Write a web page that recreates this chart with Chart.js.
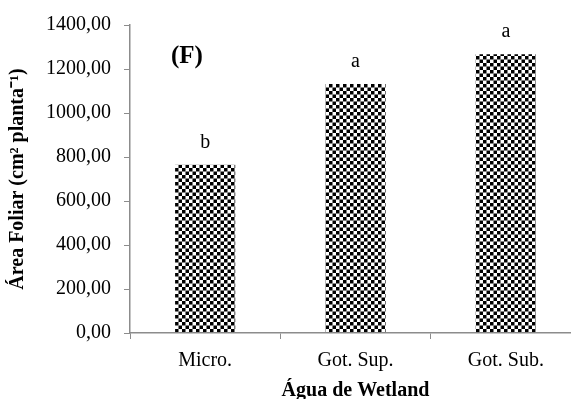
<!DOCTYPE html>
<html>
<head>
<meta charset="utf-8">
<script src="https://cdn.jsdelivr.net/npm/chart.js@4.4.0/dist/chart.umd.min.js"></script>
<style>
  html, body { margin: 0; padding: 0; background: #fff; overflow: hidden; }
  #wrap { width: 581px; height: 399px; position: relative; }
</style>
</head>
<body>
<div id="wrap"><canvas id="barChart"></canvas></div>
<script>
const categories = ["Micro.", "Got. Sup.", "Got. Sub."];
const areaFoliar = [765, 1132, 1267];
const letters = ["b", "a", "a"];
const yTicks = [0, 200, 400, 600, 800, 1000, 1200, 1400];
const panelLabel = "(F)";

const axisGray = "#8c8c8c";
const serif = "'Liberation Serif', 'Times New Roman', serif";

// checkerboard fill like the original
function makePattern() {
  const c = document.createElement("canvas");
  c.width = 7;
  c.height = 7;
  const g = c.getContext("2d");
  g.fillStyle = "#fff";
  g.fillRect(0, 0, 7, 7);
  g.fillStyle = "#000";
  g.fillRect(0, 0, 3.5, 3.5);
  g.fillRect(3.5, 3.5, 3.5, 3.5);
  return g.createPattern(c, "repeat");
}

const letterPlugin = {
  id: "letters",
  afterDatasetsDraw(chart) {
    const ctx = chart.ctx;
    const meta = chart.getDatasetMeta(0);
    ctx.save();
    ctx.font = "20px " + serif;
    ctx.fillStyle = "#000";
    ctx.textAlign = "center";
    ctx.textBaseline = "alphabetic";
    meta.data.forEach(function (bar, i) {
      ctx.fillText(letters[i], bar.x, bar.y - 17);
    });
    ctx.font = "bold 25px " + serif;
    ctx.textAlign = "left";
    ctx.fillText(panelLabel, 171, 63);
    ctx.restore();
  },
};

const ctx = document.getElementById("barChart").getContext("2d");

const barChart = new Chart(ctx, {
  type: "bar",
  data: {
    labels: categories,
    datasets: [
      {
        data: areaFoliar,
        backgroundColor: makePattern(),
        borderWidth: 0,
        barPercentage: 0.4,
        categoryPercentage: 1,
      },
    ],
  },
  options: {
    responsive: true,
    maintainAspectRatio: false,
    animation: false,
    layout: {
      padding: { top: 24, right: 0, bottom: 0, left: 0 },
    },
    plugins: {
      legend: { display: false },
      tooltip: { enabled: false },
    },
    scales: {
      x: {
        grid: {
          display: true,
          drawOnChartArea: false,
          color: axisGray,
          tickLength: 6,
        },
        border: { color: axisGray, width: 1.5 },
        ticks: {
          color: "#000",
          font: { family: serif, size: 20 },
          padding: 10,
        },
        title: {
          display: true,
          text: "Água de Wetland",
          color: "#000",
          font: { family: serif, size: 20, weight: "bold" },
          padding: { top: 6, bottom: -4 },
        },
        afterFit: function (scale) {
          scale.height = 66;
        },
      },
      y: {
        min: 0,
        max: 1400,
        afterBuildTicks: function (scale) {
          scale.ticks = yTicks.map(function (v) {
            return { value: v };
          });
        },
        grid: {
          display: true,
          drawOnChartArea: false,
          color: axisGray,
          tickLength: 6,
        },
        border: { color: axisGray, width: 1.5 },
        ticks: {
          color: "#000",
          font: { family: serif, size: 20 },
          padding: 13,
          callback: function (value) {
            return value.toFixed(2).replace(".", ",");
          },
        },
        title: {
          display: true,
          text: "Área Foliar (cm² planta⁻¹)",
          color: "#000",
          font: { family: serif, size: 20, weight: "bold" },
          padding: { top: 6, bottom: 0 },
        },
        afterFit: function (scale) {
          scale.width = 130;
        },
      },
    },
  },
  plugins: [letterPlugin],
});
</script>
</body>
</html>
